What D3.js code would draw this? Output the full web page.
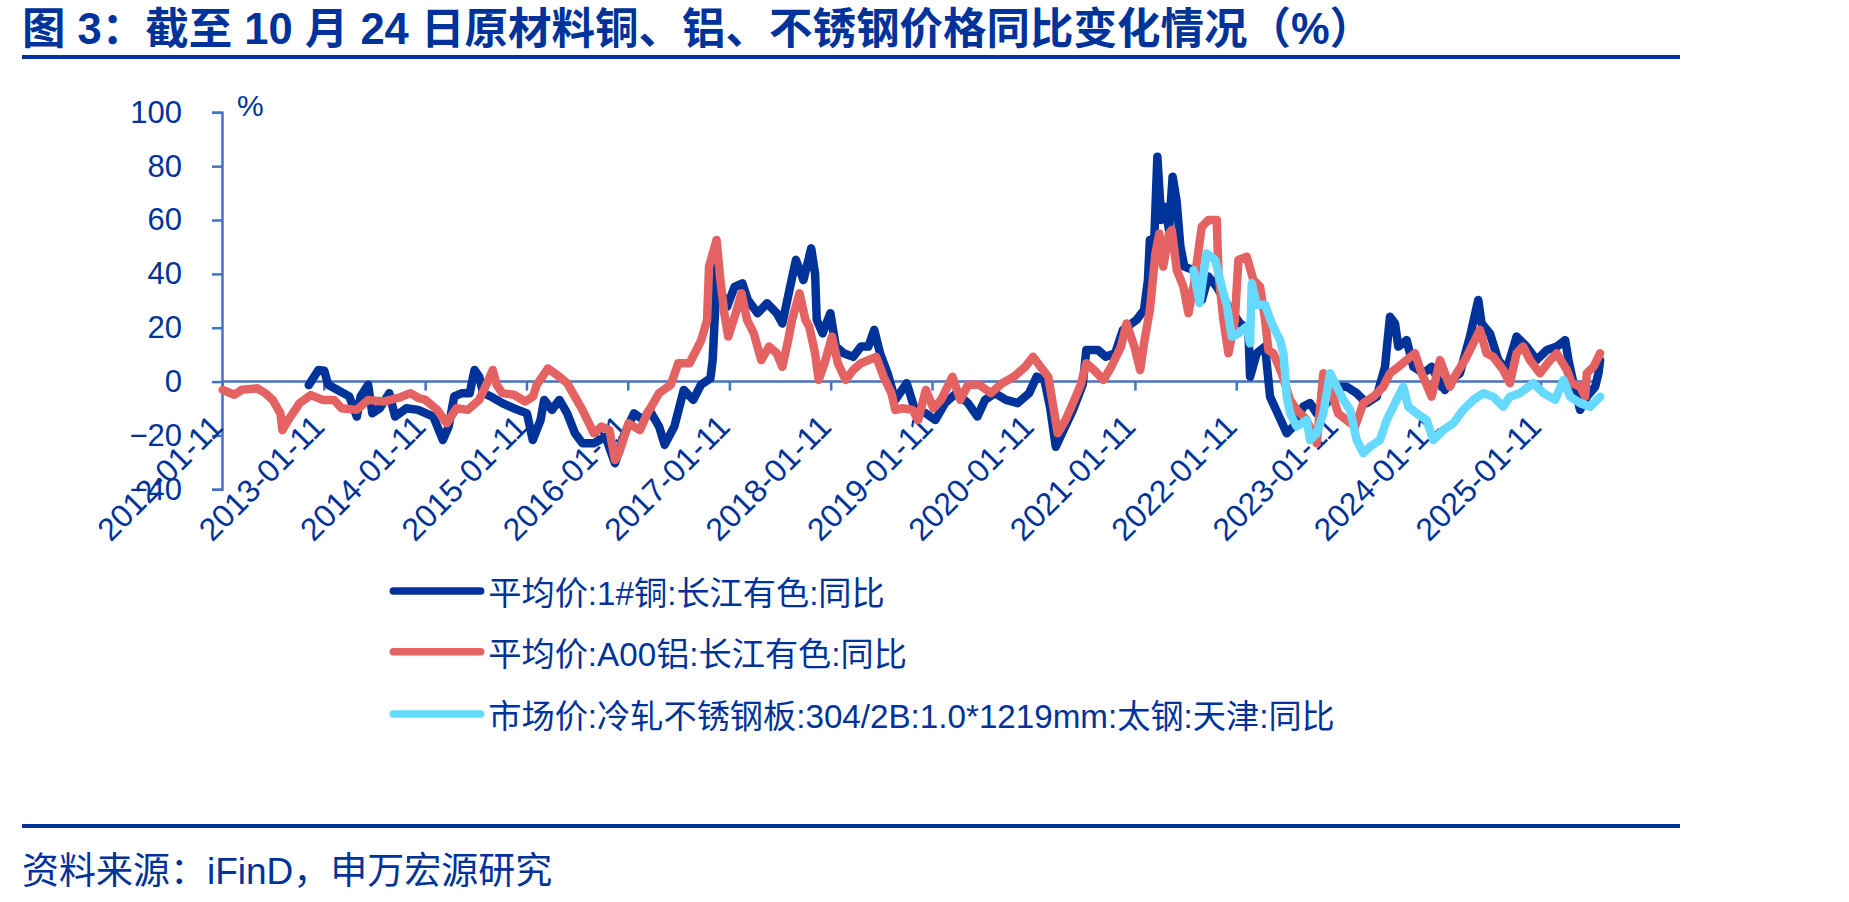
<!DOCTYPE html>
<html><head><meta charset="utf-8">
<script src="https://cdn.jsdelivr.net/npm/d3@7"></script>
<style>
body{margin:0;background:#fff;}
svg{display:block;}
text{font-family:"Liberation Sans",Arial,"Noto Sans CJK SC",sans-serif;}
</style>
</head><body>
<svg id="chart" width="1849" height="902"></svg>
<script>
const titleText = "图 3：截至 10 月 24 日原材料铜、铝、不锈钢价格同比变化情况（%）";
const sourceText = "资料来源：iFinD，申万宏源研究";
const yUnit = "%";
const yTicks = [100, 80, 60, 40, 20, 0, -20, -40];
const xTickLabels = ["2012-01-11","2013-01-11","2014-01-11","2015-01-11","2016-01-11","2017-01-11","2018-01-11","2019-01-11","2020-01-11","2021-01-11","2022-01-11","2023-01-11","2024-01-11","2025-01-11"];
const seriesNames = ["平均价:1#铜:长江有色:同比","平均价:A00铝:长江有色:同比","市场价:冷轧不锈钢板:304/2B:1.0*1219mm:太钢:天津:同比"];

const cuDates = ["2012-11-16","2012-12-21","2013-01-11","2013-01-25","2013-02-28","2013-04-11","2013-05-08","2013-05-22","2013-06-18","2013-07-03","2013-07-30","2013-09-02","2013-09-23","2013-11-03","2013-12-15","2014-02-08","2014-03-14","2014-04-04","2014-04-24","2014-05-22","2014-06-19","2014-07-06","2014-07-23","2014-08-06","2014-09-02","2014-10-14","2014-11-24","2015-01-11","2015-02-01","2015-03-01","2015-03-14","2015-04-11","2015-05-08","2015-06-05","2015-07-03","2015-07-30","2015-09-09","2015-10-21","2015-11-24","2015-12-29","2016-02-01","2016-03-06","2016-03-27","2016-05-01","2016-05-21","2016-06-25","2016-07-29","2016-09-01","2016-09-29","2016-11-02","2016-11-10","2016-11-19","2016-11-26","2016-12-03","2017-01-01","2017-01-28","2017-02-25","2017-03-17","2017-04-21","2017-05-25","2017-06-29","2017-07-19","2017-08-16","2017-09-06","2017-10-03","2017-10-31","2017-11-14","2017-11-20","2017-12-11","2018-01-08","2018-01-28","2018-02-25","2018-03-31","2018-04-28","2018-05-25","2018-06-15","2018-07-06","2018-08-02","2018-08-30","2018-10-10","2018-11-07","2018-12-18","2019-01-21","2019-02-25","2019-04-07","2019-05-19","2019-06-22","2019-07-19","2019-08-23","2019-10-03","2019-11-14","2019-12-25","2020-01-21","2020-02-18","2020-03-10","2020-03-30","2020-04-27","2020-05-31","2020-07-05","2020-07-18","2020-08-29","2020-09-26","2020-10-30","2020-11-27","2021-01-15","2021-02-11","2021-02-25","2021-03-04","2021-03-18","2021-03-31","2021-04-14","2021-04-28","2021-05-12","2021-05-25","2021-06-08","2021-06-22","2021-07-06","2021-08-08","2021-09-07","2021-10-01","2021-10-31","2021-12-12","2022-01-23","2022-02-22","2022-02-28","2022-03-24","2022-04-23","2022-05-11","2022-07-10","2022-08-03","2022-09-08","2022-10-02","2022-10-26","2022-12-01","2023-01-06","2023-02-11","2023-03-19","2023-04-24","2023-05-30","2023-06-29","2023-07-17","2023-08-04","2023-08-16","2023-09-15","2023-10-09","2023-11-14","2023-12-14","2024-01-13","2024-01-31","2024-02-24","2024-03-25","2024-04-30","2024-05-30","2024-06-11","2024-07-11","2024-08-10","2024-09-09","2024-10-15","2024-11-20","2024-12-26","2025-02-01","2025-03-09","2025-04-08","2025-04-20","2025-05-08","2025-06-01","2025-06-25","2025-07-25","2025-08-06","2025-08-12"];
const cuValues = [-1.3,4.3,4,-1.2,-3.1,-5.5,-13,-5.5,-1.2,-11.8,-9.9,-4.3,-13,-9.9,-10.5,-13,-21.7,-16.7,-5.5,-4.3,-4.3,4.3,1.8,-4.3,-5.5,-8,-9.9,-11.8,-21.7,-14.3,-6.8,-10.5,-6.8,-11.8,-19.2,-22.9,-22.9,-20.5,-30.3,-19.2,-11.8,-14.3,-10.5,-16.7,-23.5,-16.7,-3.1,-6.8,-1.2,1.2,8,26.6,43.9,35.2,27.8,35.2,36.5,30.3,25.4,29.1,25.4,21.6,35.2,45.2,37.7,49.5,40,22.9,17.9,25.4,13,10.5,9.2,13,13,19.2,10.5,3.1,-6.8,-0.6,-9.9,-11.8,-14.3,-8,-4.3,-8,-13,-6.8,-4.3,-6.8,-8,-4.3,1.8,0.6,-9.9,-24.2,-18,-10.5,-1.2,11.7,11.7,9.2,10.5,19.2,22.9,26.6,37.7,52.6,47.6,83.5,60,64.9,56.3,76.1,67.4,50.1,42.7,41.4,30.3,39,35.2,27.8,21.6,19.2,1.8,10.5,13,-5.6,-19.2,-16.7,-9.3,-8,-11.8,-8,-1.9,-1.9,-4.3,-8,-5.6,5.5,24.1,21.6,13,15.4,5.5,3.1,5.5,-0.6,-3.1,0.6,3.1,16.7,30.3,21.6,17.9,8,4.3,16.7,13,8,11.7,13,15.4,8,-0.6,-10.5,-5.6,-1.9,3.1,8];

const alDates = ["2012-01-11","2012-02-22","2012-03-20","2012-05-15","2012-06-12","2012-07-09","2012-08-06","2012-08-13","2012-09-03","2012-10-14","2012-11-24","2013-01-05","2013-02-15","2013-03-14","2013-05-08","2013-06-18","2013-08-12","2013-10-07","2013-11-17","2013-12-15","2014-01-11","2014-02-22","2014-03-28","2014-05-02","2014-06-12","2014-07-23","2014-08-20","2014-09-10","2014-09-24","2014-10-14","2014-11-25","2015-01-05","2015-02-02","2015-02-15","2015-03-28","2015-05-08","2015-06-05","2015-07-02","2015-07-30","2015-09-09","2015-10-07","2015-11-04","2015-11-24","2015-12-08","2016-01-12","2016-02-22","2016-03-20","2016-05-01","2016-06-12","2016-07-09","2016-08-19","2016-09-30","2016-10-21","2016-10-28","2016-11-24","2016-12-08","2016-12-22","2017-01-05","2017-02-01","2017-02-22","2017-03-14","2017-04-07","2017-05-04","2017-06-01","2017-06-29","2017-07-19","2017-08-09","2017-08-23","2017-09-19","2017-10-10","2017-10-24","2017-11-14","2017-11-27","2017-12-18","2018-01-14","2018-02-04","2018-03-04","2018-03-31","2018-04-28","2018-05-25","2018-06-22","2018-07-19","2018-08-16","2018-08-30","2018-09-26","2018-10-31","2018-11-20","2018-12-18","2019-01-14","2019-02-11","2019-03-24","2019-04-21","2019-05-19","2019-06-29","2019-08-09","2019-09-19","2019-10-31","2019-12-11","2020-01-08","2020-02-04","2020-03-03","2020-03-17","2020-04-06","2020-05-04","2020-05-31","2020-06-28","2020-07-18","2020-08-15","2020-09-18","2020-10-16","2020-11-20","2020-12-10","2021-01-07","2021-01-28","2021-02-11","2021-03-04","2021-03-24","2021-04-07","2021-04-21","2021-05-12","2021-05-22","2021-06-09","2021-07-03","2021-07-21","2021-08-08","2021-09-07","2021-10-01","2021-10-31","2021-11-06","2021-11-24","2021-12-12","2022-01-04","2022-01-17","2022-02-16","2022-03-12","2022-04-05","2022-04-23","2022-05-05","2022-05-23","2022-06-22","2022-07-22","2022-08-15","2022-09-20","2022-10-26","2022-11-19","2022-12-13","2023-01-11","2023-02-11","2023-03-13","2023-04-12","2023-05-18","2023-06-23","2023-07-17","2023-08-16","2023-09-15","2023-10-15","2023-11-08","2023-12-14","2024-01-13","2024-02-18","2024-03-13","2024-04-12","2024-05-06","2024-06-05","2024-06-29","2024-07-23","2024-08-28","2024-09-21","2024-10-15","2024-11-08","2024-12-02","2025-01-07","2025-02-13","2025-03-09","2025-04-14","2025-05-02","2025-06-01","2025-06-19","2025-06-25","2025-07-19","2025-08-12"];
const alValues = [-3.1,-4.9,-3,-2.5,-4.3,-6.8,-11.8,-18,-14.3,-8,-5,-6.8,-6.8,-9.9,-10.5,-6.8,-7.4,-6,-4.3,-6,-6.8,-10.5,-15.5,-9.9,-10.5,-6.8,-0.6,4.3,-1.2,-4.3,-4.9,-7.4,-5.5,-1.2,4.9,1.8,-0.6,-5.5,-10.5,-19.2,-16.7,-18,-29.1,-26.7,-15.5,-18,-11.8,-4.3,-1.2,6.8,6.8,15.4,22.9,42.7,52.6,37.7,25.4,16.7,25.4,32.8,22.9,18,8,13,10.5,5.5,15.4,22.9,32.8,22.9,20.4,10.5,0.6,6.8,16.7,6.8,0.6,4.3,6.8,8,9.2,1.8,-4.3,-10.5,-9.9,-10.5,-14.3,-3.1,-9.9,-6.8,1.8,-6.8,-1.2,-1.2,-4.3,-0.6,1.8,5.5,9.2,5.5,1.8,-6.8,-19.2,-14.3,-8,-1.2,6.8,4.3,0.6,5.5,13,21.6,13,4.3,14.2,26.6,47.6,55,42.7,55,56.3,41.4,35.2,25.4,35.2,57.5,60,60,40.2,22.9,10.5,22.9,45.2,46.4,37.7,35.2,22.9,11.7,10.5,3.1,-6.8,-10.5,-14.3,-22.9,3.1,-1.9,-11.8,-14.3,-16.7,-8,-5.6,-1.9,3.1,5.5,8,10.5,3.1,-5.6,8,-1.9,3.1,8,13,19.2,10.5,9.2,4.3,-0.6,10.5,13,8,3.1,8,10.5,4.3,-0.6,-1.9,-5.6,3.1,5.5,10.5];

const ssDates = ["2021-08-08","2021-08-30","2021-09-24","2021-10-25","2021-11-18","2021-12-06","2021-12-24","2022-01-17","2022-02-16","2022-02-28","2022-03-06","2022-03-24","2022-04-23","2022-05-17","2022-06-16","2022-06-28","2022-07-04","2022-07-10","2022-07-22","2022-08-15","2022-09-20","2022-10-02","2022-10-26","2022-11-19","2022-12-13","2023-01-06","2023-01-30","2023-02-23","2023-03-19","2023-04-12","2023-05-06","2023-06-11","2023-07-05","2023-08-10","2023-09-03","2023-09-21","2023-10-21","2023-11-26","2023-12-20","2024-01-25","2024-03-01","2024-04-06","2024-05-12","2024-06-17","2024-07-23","2024-08-28","2024-09-21","2024-10-27","2024-12-14","2025-01-20","2025-03-03","2025-04-02","2025-04-26","2025-06-01","2025-07-07","2025-08-12"];
const ssValues = [41.4,29.1,47.6,45.2,35.2,28.5,16.7,17.9,20.4,14.2,36.5,28.5,28.5,21.6,15.4,10.5,3.1,-5.6,-11.8,-16.7,-14.3,-21.7,-19.2,-11.8,3.1,-1.9,-6.8,-10.5,-21.7,-26.6,-24.2,-21.7,-14.3,-6.8,-1.9,-9.3,-11.8,-14.3,-21.7,-18,-15.5,-10.5,-6.8,-4.3,-5.6,-9.3,-5.6,-4.3,-0.6,-4.3,-6.8,0.6,-5.6,-8,-9.3,-5.6];

const seriesColors = ["#003399", "#E46262", "#66D9FF"];
const textColor = "#003399";
const axisColor = "#4472C4";

const parse = d3.timeParse("%Y-%m-%d");
const toPoints = (ds, vs) => ds.map((d, i) => ({date: parse(d), value: vs[i]}));
const series = [
  {name: seriesNames[0], color: seriesColors[0], points: toPoints(cuDates, cuValues)},
  {name: seriesNames[1], color: seriesColors[1], points: toPoints(alDates, alValues)},
  {name: seriesNames[2], color: seriesColors[2], points: toPoints(ssDates, ssValues)}
];

const svg = d3.select("#chart");

// Title and rules
svg.append("text").attr("x", 22).attr("y", 44)
  .attr("font-size", 43.5).attr("font-weight", "bold").attr("fill", textColor)
  .text(titleText);
svg.append("rect").attr("x", 22).attr("y", 55).attr("width", 1658).attr("height", 4).attr("fill", "#003399");
svg.append("rect").attr("x", 22).attr("y", 824).attr("width", 1658).attr("height", 4).attr("fill", "#003399");
svg.append("text").attr("x", 22).attr("y", 884)
  .attr("font-size", 37).attr("fill", textColor)
  .text(sourceText);

// Scales
const tickDates = xTickLabels.map(parse);
const lastDate = d3.max(series, s => d3.max(s.points, p => p.date));
const x = d3.scaleTime()
  .domain([tickDates[0], tickDates[tickDates.length - 1]])
  .range([222.7, 1541]);
const y = d3.scaleLinear().domain([-40, 100]).range([489.3, 112.3]);

// Y axis
const yAxis = d3.axisLeft(y).tickValues(yTicks).tickSize(10).tickPadding(30).tickFormat(d3.format("d"));
const gy = svg.append("g").attr("transform", "translate(222,0)").call(yAxis);
gy.select(".domain").attr("stroke", axisColor).attr("stroke-width", 2.5);
gy.selectAll(".tick line").attr("stroke", axisColor).attr("stroke-width", 2.5);
gy.selectAll(".tick text").attr("fill", textColor).attr("font-size", 31)
  .attr("font-family", "'Liberation Sans', Arial, sans-serif");

svg.append("text").attr("x", 237).attr("y", 116).attr("font-size", 30).attr("fill", textColor).text(yUnit);

// X axis on zero line
const gx = svg.append("g").attr("transform", `translate(0,${y(0)})`);
gx.append("line").attr("x1", x(tickDates[0])).attr("x2", x(lastDate))
  .attr("stroke", axisColor).attr("stroke-width", 2.5);
gx.selectAll("line.tk").data(tickDates).join("line").attr("class", "tk")
  .attr("x1", d => x(d)).attr("x2", d => x(d)).attr("y1", 0).attr("y2", 9)
  .attr("stroke", axisColor).attr("stroke-width", 2.5);

// Lines
const line = d3.line().x(d => x(d.date)).y(d => y(d.value)).curve(d3.curveLinear);
svg.append("g").selectAll("path").data(series).join("path")
  .attr("d", s => line(s.points))
  .attr("fill", "none").attr("stroke", s => s.color)
  .attr("stroke-width", 8.5).attr("stroke-linejoin", "round").attr("stroke-linecap", "round");

// X tick labels (drawn over lines, as in the reference)
gx.selectAll("text.tl").data(tickDates).join("text").attr("class", "tl")
  .attr("transform", d => `translate(${x(d) + 2},47) rotate(-45)`)
  .attr("text-anchor", "end").attr("font-size", 32).attr("fill", textColor)
  .attr("font-family", "'Liberation Sans', Arial, sans-serif")
  .text((d, i) => xTickLabels[i]);

// Legend
const lg = svg.append("g");
const legendRows = [591, 651.7, 714];
series.forEach((s, i) => {
  lg.append("line").attr("x1", 393.3).attr("x2", 480.7).attr("y1", legendRows[i]).attr("y2", legendRows[i])
    .attr("stroke", s.color).attr("stroke-width", 7.5).attr("stroke-linecap", "round");
  lg.append("text").attr("x", 488.3).attr("y", legendRows[i] + 14)
    .attr("font-size", 33.2).attr("fill", textColor).text(s.name);
});
</script>
</body></html>
